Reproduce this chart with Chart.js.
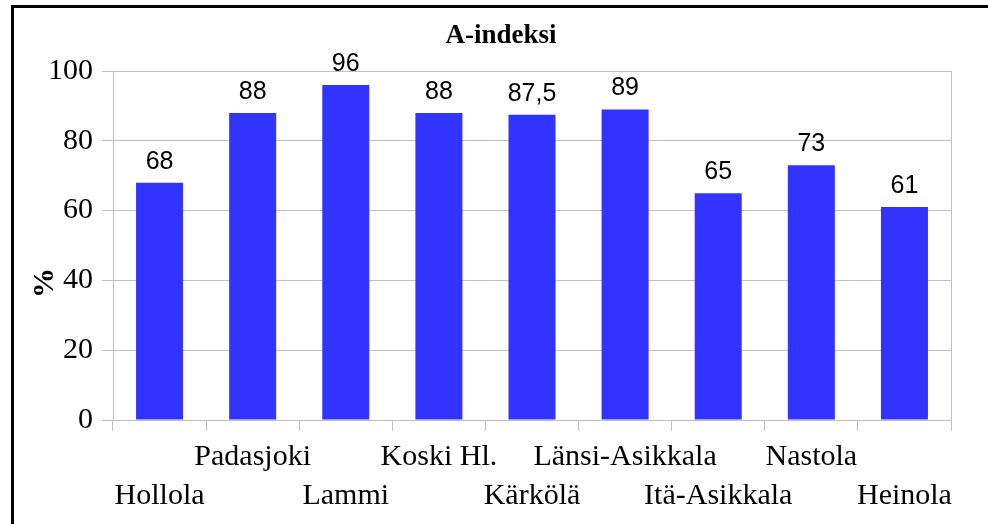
<!DOCTYPE html>
<html><head><meta charset="utf-8">
<script src="https://cdn.jsdelivr.net/npm/chart.js@4/dist/chart.umd.min.js"></script>
<style>
html,body{margin:0;padding:0;background:#fff;overflow:hidden}
#frame{position:absolute;left:11px;top:5px;width:1000px;height:540px;border-left:3px solid #000;border-top:3px solid #000}
#c{position:absolute;left:0;top:0}
</style></head><body>
<div id="frame"></div>
<canvas id="c" width="988" height="524"></canvas>
<script>
// Data
const categories = ['Hollola', 'Padasjoki', 'Lammi', 'Koski Hl.', 'Kärkölä', 'Länsi-Asikkala', 'Itä-Asikkala', 'Nastola', 'Heinola'];
const values = [68, 88, 96, 88, 87.5, 89, 65, 73, 61];
const yTicks = [0, 20, 40, 60, 80, 100];
const chartTitle = 'A-indeksi';
const yTitle = '%';

const SERIF = '"Liberation Serif", "Times New Roman", serif';
const SANS = '"Liberation Sans", Arial, sans-serif';
const GRID = '#c0c0c0';

// Finnish decimal comma
const fmt = v => String(v).replace('.', ',');

// Title, axis title, value labels and the right edge of the plot frame
const extras = {
  id: 'extras',
  afterDraw(chart) {
    const ctx = chart.ctx;
    const area = chart.chartArea;
    ctx.save();
    // plot frame right edge
    ctx.strokeStyle = GRID;
    ctx.lineWidth = 1;
    ctx.beginPath();
    ctx.moveTo(Math.round(area.right) + 0.5, area.top);
    ctx.lineTo(Math.round(area.right) + 0.5, area.bottom);
    ctx.stroke();

    // title
    ctx.fillStyle = '#000';
    ctx.font = 'bold 27px ' + SERIF;
    ctx.textAlign = 'center';
    ctx.textBaseline = 'alphabetic';
    ctx.fillText(chartTitle, 501, 43);

    // y axis title
    ctx.save();
    ctx.translate(53, 283);
    ctx.rotate(-Math.PI / 2);
    ctx.font = 'bold 30px ' + SERIF;
    ctx.fillText(yTitle, 0, 0);
    ctx.restore();

    // value labels
    ctx.font = '25px ' + SANS;
    const meta = chart.getDatasetMeta(0);
    meta.data.forEach((bar, i) => {
      ctx.fillText(fmt(values[i]), bar.x, bar.y - 14);
    });
    ctx.restore();
  }
};

new Chart(document.getElementById('c'), {
  type: 'bar',
  data: {
    labels: categories,
    datasets: [{
      data: values,
      backgroundColor: '#3333ff',
      borderWidth: 0,
      categoryPercentage: 1,
      barPercentage: 0.505
    }]
  },
  options: {
    responsive: false,
    animation: false,
    devicePixelRatio: 1,
    layout: { padding: { left: 0, right: 37, top: 71, bottom: 0 } },
    plugins: { legend: { display: false }, title: { display: false }, tooltip: { enabled: false } },
    scales: {
      x: {
        offset: true,
        grid: { display: true, offset: true, drawOnChartArea: false, drawTicks: true, tickLength: 11, color: GRID, lineWidth: 1 },
        border: { display: true, color: GRID, width: 1 },
        ticks: {
          color: '#000',
          font: { family: SERIF, size: 30, lineHeight: 1.3 },
          padding: 7,
          maxRotation: 0,
          minRotation: 0,
          autoSkip: false,
          callback: (v, i) => (i % 2 === 0 ? ['', categories[i]] : [categories[i]])
        },
        afterFit: s => { s.height = 104; }
      },
      y: {
        min: 0,
        max: 100,
        afterBuildTicks: s => { s.ticks = yTicks.map(v => ({ value: v })); },
        grid: { color: GRID, lineWidth: 1, drawTicks: true, tickLength: 11 },
        border: { display: true, color: GRID, width: 1 },
        ticks: {
          color: '#000',
          font: { family: SERIF, size: 30 },
          padding: 9
        },
        afterFit: s => { s.width = 113; }
      }
    }
  },
  plugins: [extras]
});
</script>
</body></html>
